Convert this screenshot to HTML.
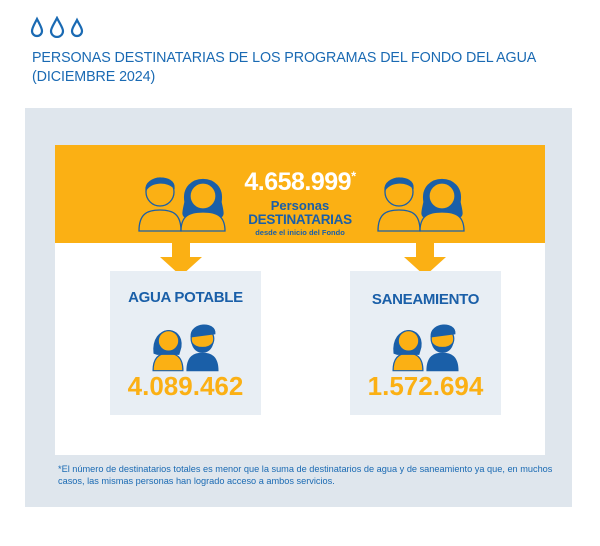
<!DOCTYPE html>
<html><head><meta charset="utf-8"><style>
*{margin:0;padding:0;box-sizing:border-box}
body{width:600px;height:546px;background:#fff;font-family:"Liberation Sans",sans-serif;position:relative;overflow:hidden}
.abs{position:absolute}
.title{left:32px;top:49px;color:#1a6ab3;font-size:14.3px;line-height:19px;letter-spacing:-0.1px}
.panel{left:25px;top:108px;width:547px;height:399px;background:#dfe6ed}
.white{left:55px;top:145px;width:490px;height:310px;background:#fff}
.orange{left:55px;top:145px;width:490px;height:98px;background:#fbb014}
.sub{background:#e8eef4;width:151px;height:144px;top:271px}
.subt{width:151px;text-align:center;color:#1a5fa8;font-weight:bold;font-size:15px;letter-spacing:-0.3px}
.num{width:151px;text-align:center;color:#fbb014;font-weight:bold;font-size:26px}
.foot{left:58px;top:464px;color:#1a6ab3;font-size:9.2px;line-height:11.5px}
</style></head><body>
<svg class="abs" style="left:30px;top:16px" width="60" height="22" viewBox="0 0 60 22">
<g fill="none" stroke="#1a6ab3" stroke-width="2.2">
<path d="M7 3 C4 9 2 12 2 15 a5 5 0 0 0 10 0 C12 12 10 9 7 3Z"/>
<path d="M27 2 C24 8 21 12 21 15 a6 6 0 0 0 12 0 C33 12 30 8 27 2Z"/>
<path d="M47 4 C44 10 42 12 42 15 a5 5 0 0 0 10 0 C52 12 50 10 47 4Z"/>
</g></svg>
<div class="abs title">PERSONAS DESTINATARIAS DE LOS PROGRAMAS DEL FONDO DEL AGUA<br>(DICIEMBRE 2024)</div>
<div class="abs panel"></div>
<div class="abs white"></div>
<div class="abs orange"></div>
<svg class="abs" style="left:160px;top:243px" width="42" height="34"><rect x="12" y="0" width="18" height="16" fill="#fbb014"/><path d="M0 14 H42 L21 33Z" fill="#fbb014"/></svg>
<svg class="abs" style="left:404px;top:243px" width="42" height="34"><rect x="12" y="0" width="18" height="16" fill="#fbb014"/><path d="M0 14 H42 L21 33Z" fill="#fbb014"/></svg>
<svg class="abs" style="left:138px;top:170px" width="92" height="62" viewBox="0 0 92 62">
<g stroke="#1a5fa8" stroke-width="1.3">
<path d="M1 61 C1 44 9 40 22 40 C35 40 43 44 43 61Z" fill="#fbb014"/>
<circle cx="22" cy="22" r="14" fill="#fbb014"/>
<path d="M8 20 C7 5 37 4 36 18 C30 11 14 11 8 20Z" fill="#1a5fa8"/>
<path d="M47 32 C42 2 88 2 83 32 C85 42 87 46 81 48 L49 48 C43 46 45 42 47 32Z" fill="#1a5fa8"/>
<path d="M43 61 C43 46 51 42 65 42 C79 42 87 46 87 61Z" fill="#fbb014"/>
<circle cx="65" cy="26" r="13" fill="#fbb014"/>
</g></svg>
<svg class="abs" style="left:377px;top:170px" width="92" height="62" viewBox="0 0 92 62">
<g stroke="#1a5fa8" stroke-width="1.3">
<path d="M1 61 C1 44 9 40 22 40 C35 40 43 44 43 61Z" fill="#fbb014"/>
<circle cx="22" cy="22" r="14" fill="#fbb014"/>
<path d="M8 20 C7 5 37 4 36 18 C30 11 14 11 8 20Z" fill="#1a5fa8"/>
<path d="M47 32 C42 2 88 2 83 32 C85 42 87 46 81 48 L49 48 C43 46 45 42 47 32Z" fill="#1a5fa8"/>
<path d="M43 61 C43 46 51 42 65 42 C79 42 87 46 87 61Z" fill="#fbb014"/>
<circle cx="65" cy="26" r="13" fill="#fbb014"/>
</g></svg>
<div class="abs" style="left:230px;top:168px;width:140px;text-align:center;color:#fff;font-weight:bold;font-size:25px;letter-spacing:-0.5px">4.658.999<sup style="font-size:13px">*</sup></div>
<div class="abs" style="left:230px;top:198px;width:140px;text-align:center;color:#1a5fa8;font-weight:bold;font-size:13px">Personas</div>
<div class="abs" style="left:230px;top:212px;width:140px;text-align:center;color:#1a5fa8;font-weight:bold;font-size:13.5px;letter-spacing:-0.3px">DESTINATARIAS</div>
<div class="abs" style="left:230px;top:228px;width:140px;text-align:center;color:#1a5fa8;font-weight:bold;font-size:7.5px">desde el inicio del Fondo</div>
<div class="abs sub" style="left:110px"></div>
<div class="abs sub" style="left:350px"></div>
<div class="abs subt" style="left:110px;top:289px">AGUA POTABLE</div>
<div class="abs subt" style="left:350px;top:291px">SANEAMIENTO</div>
<svg class="abs" style="left:150px;top:320px" width="72" height="52" viewBox="0 0 70 50">
<g stroke="#1a5fa8" stroke-width="1.2">
<path d="M3 49 C3 35 10 32 17 32 C25 32 32 35 32 49Z" fill="#fbb014"/>
<path d="M4 32 C1 4 33 4 30 26 L28 33 L7 33Z" fill="#1a5fa8"/>
<circle cx="18" cy="20" r="10" fill="#fbb014"/>
<path d="M36 49 C36 35 43 32 51 32 C59 32 66 35 66 49Z" fill="#1a5fa8"/>
<circle cx="51" cy="18" r="11" fill="#fbb014"/>
<path d="M40 16 C39 2 64 1 63 13 Z" fill="#1a5fa8"/>
<path d="M41 22 C43 34 59 34 61 22 C58 28 44 28 41 22Z" fill="#1a5fa8"/>
</g></svg>
<svg class="abs" style="left:390px;top:320px" width="72" height="52" viewBox="0 0 70 50">
<g stroke="#1a5fa8" stroke-width="1.2">
<path d="M3 49 C3 35 10 32 17 32 C25 32 32 35 32 49Z" fill="#fbb014"/>
<path d="M4 32 C1 4 33 4 30 26 L28 33 L7 33Z" fill="#1a5fa8"/>
<circle cx="18" cy="20" r="10" fill="#fbb014"/>
<path d="M36 49 C36 35 43 32 51 32 C59 32 66 35 66 49Z" fill="#1a5fa8"/>
<circle cx="51" cy="18" r="11" fill="#fbb014"/>
<path d="M40 16 C39 2 64 1 63 13 Z" fill="#1a5fa8"/>
<path d="M41 22 C43 34 59 34 61 22 C58 28 44 28 41 22Z" fill="#1a5fa8"/>
</g></svg>
<div class="abs num" style="left:110px;top:371px">4.089.462</div>
<div class="abs num" style="left:350px;top:371px">1.572.694</div>
<div class="abs foot">*El número de destinatarios totales es menor que la suma de destinatarios de agua y de saneamiento ya que, en muchos<br>casos, las mismas personas han logrado acceso a ambos servicios.</div>
</body></html>
